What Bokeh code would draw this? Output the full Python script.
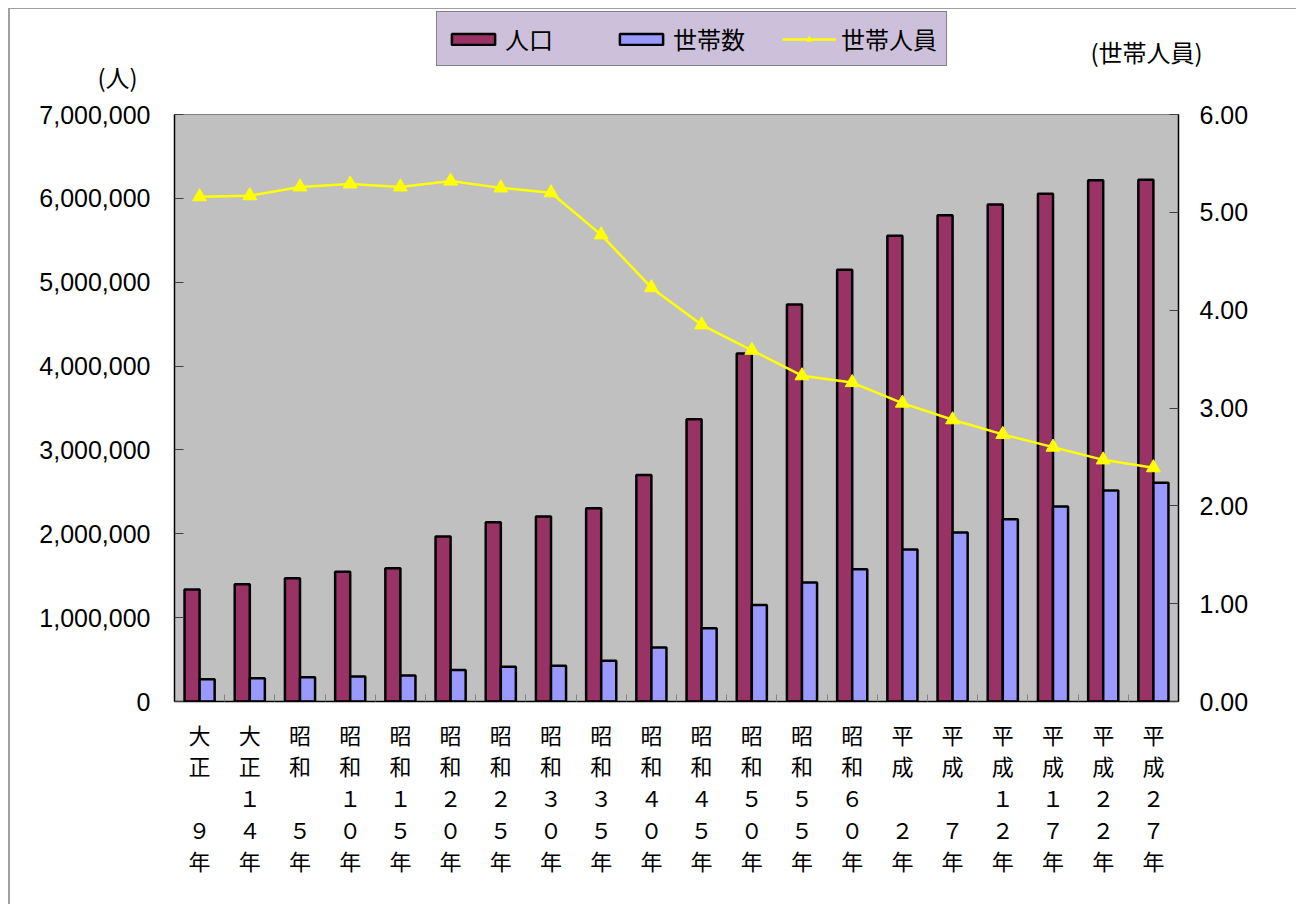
import numpy as np
from bokeh.plotting import figure
from bokeh.models import (Range1d, LinearAxis, FixedTicker, Legend, LegendItem,
                          NumeralTickFormatter, Label, ColumnDataSource)
from bokeh.embed import file_html
from bokeh.resources import INLINE

# ---- data ----
eras = ["大正", "大正", "昭和", "昭和", "昭和", "昭和", "昭和", "昭和", "昭和", "昭和",
        "昭和", "昭和", "昭和", "昭和", "平成", "平成", "平成", "平成", "平成", "平成"]
years = ["９", "１４", "５", "１０", "１５", "２０", "２５", "３０", "３５", "４０",
         "４５", "５０", "５５", "６０", "２", "７", "１２", "１７", "２２", "２７"]
population = [1336000, 1399000, 1470000, 1548000, 1588000, 1967000, 2139000, 2205000,
              2306000, 2702000, 3367000, 4149000, 4735000, 5148000, 5555000, 5798000,
              5926000, 6056000, 6216000, 6223000]
households = [265000, 277000, 288000, 298000, 310000, 375000, 413000, 425000,
              487000, 645000, 875000, 1152000, 1420000, 1577000, 1813000, 2014000,
              2172000, 2326000, 2515000, 2609000]
persons_per_household = [5.16, 5.17, 5.26, 5.29, 5.26, 5.32, 5.25, 5.20, 4.77, 4.23,
                         3.85, 3.59, 3.33, 3.26, 3.05, 2.88, 2.73, 2.60, 2.47, 2.39]
left_ticks = [0, 1000000, 2000000, 3000000, 4000000, 5000000, 6000000, 7000000]
right_ticks = [0, 1, 2, 3, 4, 5, 6]
series_names = ["人口", "世帯数", "世帯人員"]
unit_left = "(人)"
unit_right = "(世帯人員)"

n = len(eras)
centers = np.arange(n) + 0.5

RED, BLUE, YEL = "#993366", "#9999FF", "#FFFF00"
CJK = "Noto Sans CJK JP"
NUM = "Liberation Sans"


def make_label(era, yr):
    chars = list(era)
    if len(yr) == 1:
        chars += ["　", yr]
    else:
        chars += list(yr)
    chars.append("年")
    return "\n".join(chars)


labels = {float(c): make_label(e, y) for c, e, y in zip(centers, eras, years)}

W = 1288
TOP_H = 92
MAIN_H = 804

# ---------- header strip (legend + unit labels) ----------
top = figure(width=W, height=TOP_H, output_backend="svg", toolbar_location=None,
             x_range=Range1d(0, W), y_range=Range1d(0, TOP_H),
             min_border=0, outline_line_color=None, background_fill_color="white",
             border_fill_color="white")
top.xaxis.visible = False
top.yaxis.visible = False
top.grid.visible = False
top.styles = {"margin-left": "8px", "margin-top": "8px",
              "border-left": "2px solid #A0A0A0", "border-top": "1px solid #A0A0A0"}

# legend-only renderers: one point far outside the visible strip
swatch = ColumnDataSource(dict(x=[-1000], y=[-1000], top=[-1000]))
d_pop = top.vbar(x="x", top="top", width=1, source=swatch, fill_color=RED,
                 line_color="black", line_width=2.5)
d_hh = top.vbar(x="x", top="top", width=1, source=swatch, fill_color=BLUE,
                line_color="black", line_width=2.5)
d_line = top.line(x="x", y="y", source=swatch, line_color=YEL, line_width=2.5)
d_mk = top.scatter(x="x", y="y", source=swatch, marker="triangle", size=14,
                   fill_color=YEL, line_color=YEL)

legend = Legend(items=[LegendItem(label=series_names[0], renderers=[d_pop]),
                       LegendItem(label=series_names[1], renderers=[d_hh]),
                       LegendItem(label=series_names[2], renderers=[d_line, d_mk])],
                orientation="horizontal", location=(426, 35))
legend.label_text_font = CJK
legend.label_text_font_size = "24px"
legend.label_text_color = "black"
legend.label_width = 96
legend.label_standoff = 5
legend.glyph_width = 54
legend.glyph_height = 14
legend.spacing = 13
legend.padding = 9
legend.margin = 0
legend.background_fill_color = "#CCC0DA"
legend.background_fill_alpha = 1
legend.border_line_color = "#404040"
legend.border_line_width = 1
top.add_layout(legend, "center")

top.add_layout(Label(x=107, y=25, text=unit_left, text_font=CJK, text_font_size="24px",
                     text_color="black", text_align="center", text_baseline="middle"))
top.add_layout(Label(x=1136, y=50, text=unit_right, text_font=CJK,
                     text_font_size="24px", text_color="black", text_align="center",
                     text_baseline="middle"))

# ---------- main chart ----------
p = figure(width=W, height=MAIN_H, output_backend="svg", toolbar_location=None,
           x_range=Range1d(0, n), y_range=Range1d(0, 7000000),
           min_border_left=164, min_border_right=120, min_border_top=14,
           min_border_bottom=203, background_fill_color="#C0C0C0",
           border_fill_color="white", outline_line_color="#808080")
p.xaxis.visible = False
p.yaxis.visible = False
p.grid.visible = False
p.styles = {"margin-left": "8px", "border-left": "2px solid #A0A0A0"}
p.extra_y_ranges = {"r": Range1d(0, 6)}

la = LinearAxis(ticker=FixedTicker(ticks=left_ticks, minor_ticks=[]),
                formatter=NumeralTickFormatter(format="0,0"))
la.major_label_text_font = NUM
la.major_label_text_font_size = "25px"
la.major_label_text_color = "black"
la.major_label_standoff = 24
la.major_tick_in = 9
la.major_tick_out = 0
la.major_tick_line_color = "#404040"
la.axis_line_color = "black"
la.axis_line_width = 1.5
p.add_layout(la, "left")

ra = LinearAxis(y_range_name="r", ticker=FixedTicker(ticks=right_ticks, minor_ticks=[]),
                formatter=NumeralTickFormatter(format="0.00"))
ra.major_label_text_font = NUM
ra.major_label_text_font_size = "25px"
ra.major_label_text_color = "black"
ra.major_label_standoff = 21
ra.major_tick_in = 9
ra.major_tick_out = 0
ra.major_tick_line_color = "#404040"
ra.axis_line_color = "black"
ra.axis_line_width = 1.5
p.add_layout(ra, "right")

ba = LinearAxis(ticker=FixedTicker(ticks=list(centers), minor_ticks=list(range(1, n))))
ba.major_label_overrides = labels
ba.major_label_text_font = CJK
ba.major_label_text_font_size = "22px"
ba.major_label_text_color = "black"
ba.major_label_text_line_height = 0.99
ba.major_label_standoff = 16
ba.major_tick_in = 0
ba.major_tick_out = 0
ba.minor_tick_in = 7
ba.minor_tick_out = 0
ba.minor_tick_line_color = "#808080"
ba.axis_line_color = "black"
ba.axis_line_width = 1.5
p.add_layout(ba, "below")

src = ColumnDataSource(dict(xc=centers, pph=persons_per_household))

p.vbar(x=centers - 0.15, top=population, width=0.3, bottom=0,
       fill_color=RED, line_color="black", line_width=2.5)
p.vbar(x=centers + 0.15, top=households, width=0.3, bottom=0,
       fill_color=BLUE, line_color="black", line_width=2.5)
p.line(x="xc", y="pph", source=src, y_range_name="r", line_color=YEL, line_width=2.5)
p.scatter(x="xc", y="pph", source=src, y_range_name="r", marker="triangle",
          size=14, fill_color=YEL, line_color=YEL)

open("out.html", "w").write(file_html([top, p], INLINE))
